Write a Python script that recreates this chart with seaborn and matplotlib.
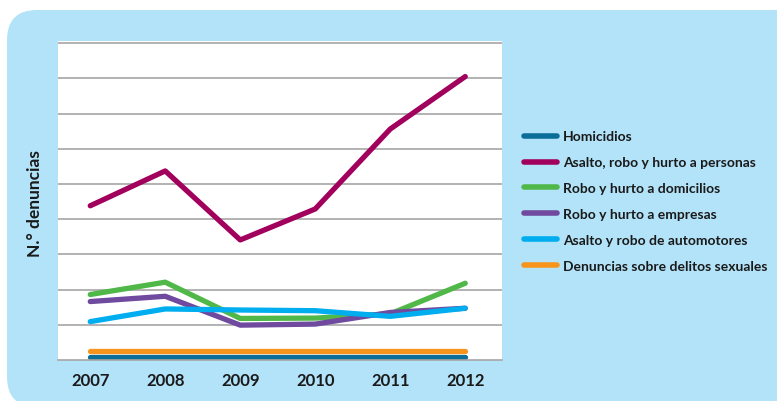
import matplotlib
matplotlib.use("Agg")
import matplotlib.pyplot as plt
from matplotlib.patches import FancyBboxPatch
import numpy as np
import pandas as pd
import seaborn as sns

years = ["2007", "2008", "2009", "2010", "2011", "2012"]

series_names = [
    "Homicidios",
    "Asalto, robo y hurto a personas",
    "Robo y hurto a domicilios",
    "Robo y hurto a empresas",
    "Asalto y robo de automotores",
    "Denuncias sobre delitos sexuales",
]

homicidios = [0.09, 0.09, 0.09, 0.09, 0.09, 0.09]
personas = [4.38, 5.37, 3.41, 4.29, 6.56, 8.05]
domicilios = [1.86, 2.21, 1.18, 1.19, 1.31, 2.18]
empresas = [1.66, 1.81, 0.99, 1.02, 1.35, 1.47]
automotores = [1.09, 1.45, 1.42, 1.40, 1.24, 1.47]
sexuales = [0.25, 0.25, 0.25, 0.25, 0.25, 0.25]

colors = ["#0b6e99", "#a1005c", "#50b848", "#6f4a9e", "#00adee", "#f7941d"]

all_values = [homicidios, personas, domicilios, empresas, automotores, sexuales]
df = pd.concat(
    [
        pd.DataFrame({"x": np.arange(len(years)), "valor": vals, "serie": name})
        for name, vals in zip(series_names, all_values)
    ],
    ignore_index=True,
)

sns.set_style("white")
plt.rcParams["font.family"] = ["Lato", "DejaVu Sans"]

fig = plt.figure(figsize=(7.77, 4.02), dpi=100)
fig.patch.set_facecolor("white")

# light blue rounded panel behind everything
bg = FancyBboxPatch(
    (7, -6), 900, 397,
    boxstyle="round,pad=0,rounding_size=30",
    transform=None, facecolor="#b3e3f9", edgecolor="none", zorder=-10,
)
fig.patches.append(bg)

ax = fig.add_axes([58 / 777, 41 / 402, 444 / 777, 319 / 402])
ax.set_zorder(1)
ax.set_facecolor("white")

sns.lineplot(
    data=df, x="x", y="valor", hue="serie", hue_order=series_names,
    palette=colors, linewidth=3.8, ax=ax, legend=False,
    solid_capstyle="round",
)

ax.set_xlim(-0.43, 5.49)
ax.set_ylim(0, 9.06)
ax.set_yticks(np.arange(1, 10))
ax.set_yticklabels([])
ax.tick_params(axis="y", length=0)
ax.tick_params(axis="x", length=0, pad=9)
ax.set_xticks(np.arange(len(years)))
ax.set_xticklabels(years, fontsize=12, fontweight="bold", color="#1a1a1a")
ax.grid(axis="y", color="#a6a6a6", linewidth=1.2)
ax.set_axisbelow(True)
for side in ["left", "right", "top"]:
    ax.spines[side].set_visible(False)
ax.spines["bottom"].set_color("#a6a6a6")
ax.spines["bottom"].set_linewidth(1.2)

ax.set_xlabel("")
ax.set_ylabel("N.° denuncias", fontsize=12.5, fontweight="bold", color="#1a1a1a")
ax.yaxis.set_label_coords(-0.034, 0.495)

handles = [plt.Line2D([], [], color=c, linewidth=4, solid_capstyle="round") for c in colors]
leg = fig.legend(
    handles, series_names, loc="upper left", bbox_to_anchor=(511 / 777, 1 - 119 / 402),
    frameon=False, handlelength=2.4, handletextpad=0.45, labelspacing=1.0,
    prop={"family": ["Lato", "DejaVu Sans"], "weight": "bold", "size": 10},
    labelcolor="#1a1a1a",
)
leg.set_zorder(2)

fig.savefig("out.png", dpi=100)
